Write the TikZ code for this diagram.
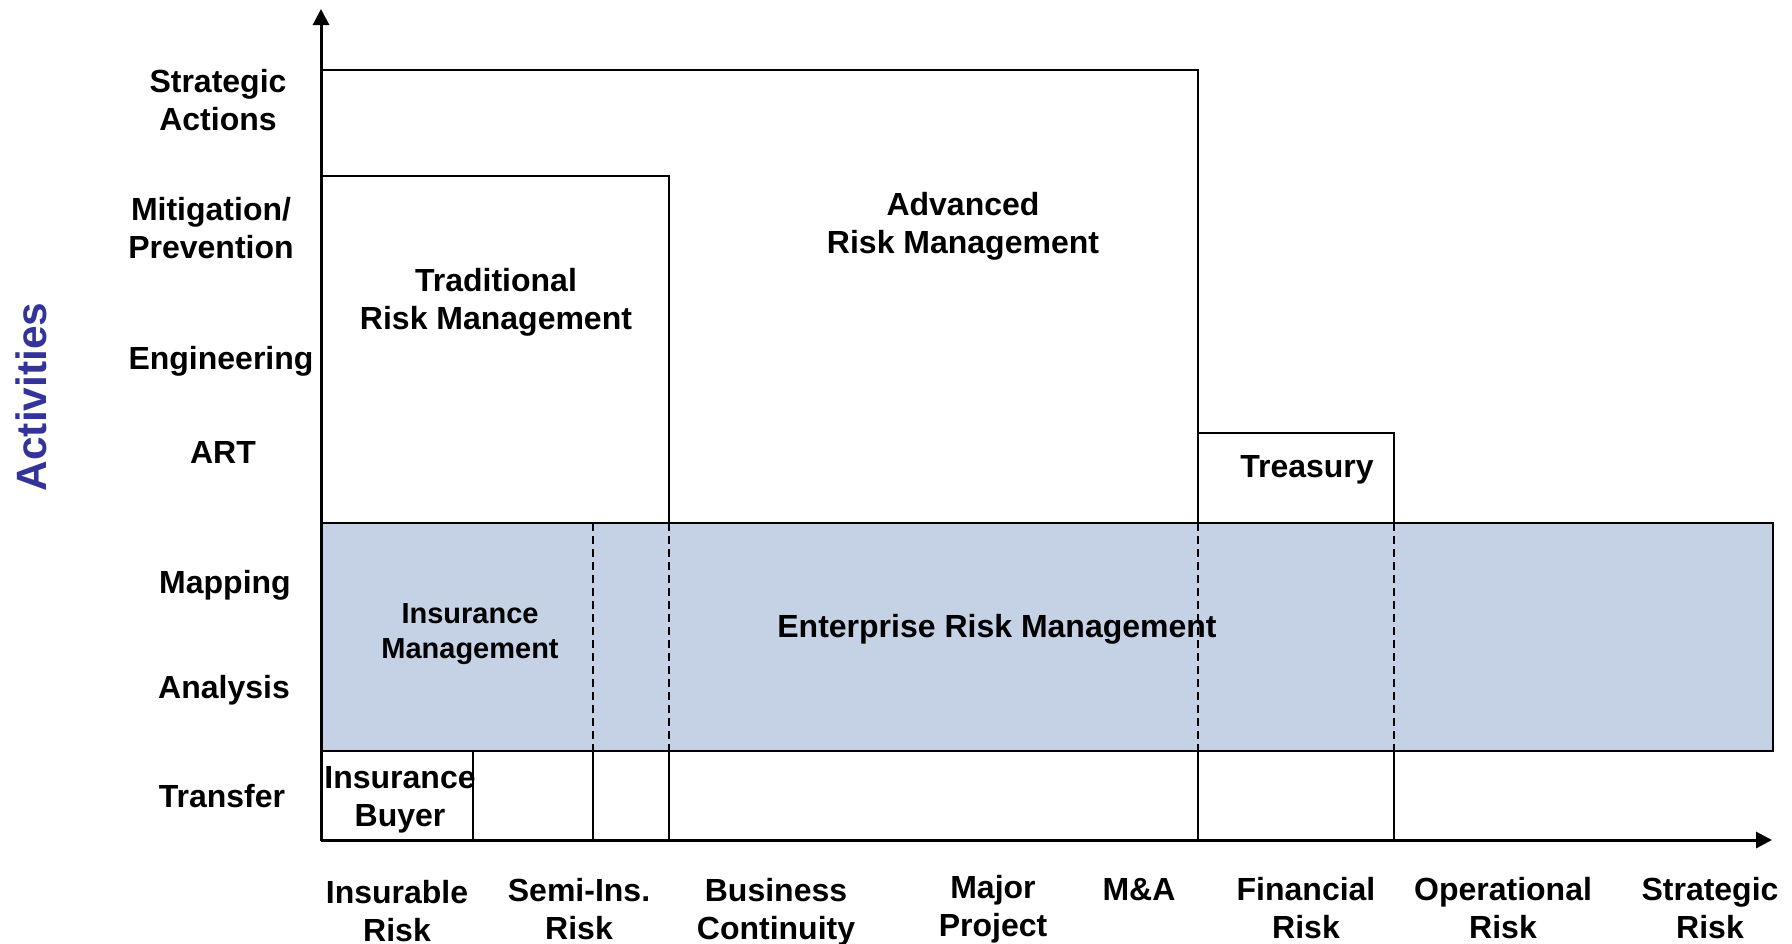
\documentclass[tikz,border=0pt]{standalone}
\usepackage{fontspec}
\setmainfont{Liberation Sans}
\usetikzlibrary{arrows.meta}
\definecolor{ermfill}{HTML}{C5D2E5}
\definecolor{actblue}{HTML}{333399}
\begin{document}
\begin{tikzpicture}[x=0.5pt,y=-0.5pt,
  lbl/.style={font=\bfseries\fontsize{16}{18.85}\selectfont, align=center, inner sep=0pt},
  smalllbl/.style={font=\bfseries\fontsize{14.5}{17.3}\selectfont, align=center, inner sep=0pt},
  boxline/.style={line width=1.1pt, line cap=rect},
  thinline/.style={line width=0.8pt},
  dashline/.style={line width=0.7pt, dash pattern=on 4pt off 2.5pt},
  axisline/.style={line width=1.5pt, -{Triangle[length=8pt,width=8pt]}}]
\useasboundingbox (0,0) rectangle (1792,943);
% boxes
\draw[boxline] (321,840) -- (321,70) -- (1198,70) -- (1198,840);
\draw[boxline] (321,176) -- (669,176) -- (669,840);
\draw[boxline] (1198,433) -- (1394,433);
\draw[thinline] (1394,433) -- (1394,840);
\draw[thinline] (473,751) -- (473,840);
\draw[thinline] (593,751) -- (593,840);
% ERM band
\fill[ermfill] (321,523) rectangle (1773,751);
\draw[boxline] (321,523) rectangle (1773,751);
\foreach \xx in {593,669,1198,1394}
  \draw[dashline] (\xx,523) -- (\xx,751);
% axes
\coordinate (o) at (321,840);
\coordinate (ytip) at (321,9);
\coordinate (xtip) at (1772,840);
\draw[axisline] (o) -- (ytip);
\draw[axisline] (o) -- (xtip);
% axis title
\node[lbl, font=\bfseries\fontsize{21.2}{25}\selectfont, text=actblue, rotate=90] (act) at (31,397) {Activities};
% left labels
\node[lbl] (l1) at (218,100) {Strategic\\Actions};
\node[lbl] (l2) at (211,228) {Mitigation/\\Prevention};
\node[lbl] (l3) at (221,361) {Engineering};
\node[lbl] (l4) at (223,452) {ART};
\node[lbl] (l5) at (225,585) {Mapping};
\node[lbl] (l6) at (224,690) {Analysis};
\node[lbl] (l7) at (222,796) {Transfer};
% box labels
\node[lbl] (trad) at (496,302) {Traditional\\Risk Management};
\node[lbl] (adv) at (963,226) {Advanced\\Risk Management};
\node[lbl] (tre) at (1307,470) {Treasury};
\node[smalllbl] (insm) at (470,634) {Insurance\\Management};
\node[lbl] (erm) at (997,629) {Enterprise Risk Management};
\node[lbl] (insb) at (400,800) {Insurance\\Buyer};
% bottom labels
\node[lbl] (b1) at (397,911) {Insurable\\Risk};
\node[lbl] (b2) at (579,909) {Semi-Ins.\\Risk};
\node[lbl] (b3) at (776,912) {Business\\Continuity};
\node[lbl] (b4) at (993,909) {Major\\Project};
\node[lbl] (b5) at (1139,890) {M\&A};
\node[lbl] (b6) at (1306,908) {Financial\\Risk};
\node[lbl] (b7) at (1503,908) {Operational\\Risk};
\node[lbl] (b8) at (1710,908) {Strategic\\Risk};
\end{tikzpicture}
\end{document}
